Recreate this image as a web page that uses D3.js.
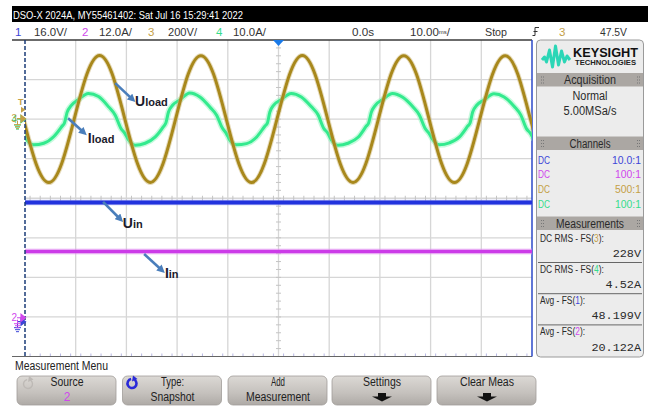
<!DOCTYPE html>
<html>
<head>
<meta charset="utf-8">
<script src="https://cdn.jsdelivr.net/npm/d3@7"></script>
<style>
  body { margin: 0; background: #fff; }
  svg { display: block; }
</style>
</head>
<body>
<div id="scope"></div>
<script>
// ---- values ----
// channel settings: 1 = Uin, 2 = Iin, 3 = Uload, 4 = Iload
const chNames = ["1", "2", "3", "4"];
const chScaleText = ["16.0V/", "12.0A/", "200V/", "10.0A/"];
const chScale = [16, 12, 200, 10]; // units per division
const chOffset = [-3.12, -3.02, 2, 2]; // ground position, divisions from centre
const chColor = ["#2233dd", "#cc3be8", "#a8881c", "#33ea8e"];
const chLabelColor = ["#3c46d8", "#d048ec", "#c4a046", "#35dc8c"];
const probe = ["10.0:1", "100:1", "500:1", "100:1"];

// Uload, ms / volts
const uloadTime = [-50.3, -47.8, -45.3, -42.8, -40.3, -37.8, -35.3, -32.8, -30.3, -27.8, -25.3, -22.8, -20.3, -17.8,
  -15.3, -12.8, -10.3, -7.8, -5.3, -2.8, -0.3, 2.2, 4.7, 7.2, 9.7, 12.2, 14.7, 17.2, 19.7, 22.2, 24.7, 27.2, 29.7,
  32.2, 34.7, 37.2, 39.7, 42.2, 44.7, 47.2, 49.7, 52.2];
const uloadVolts = [0, -227, -321, -227, 0, 227, 322, 228,
  0, -226, -320, -227, 0, 228, 321, 227,
  0, -227, -321, -226, 0, 227, 322, 227,
  0, -227, -320, -227, 0, 227, 321, 228,
  0, -227, -321, -227, 0, 226, 321, 227,
  0, -227];

// Iload, ms / amps
const iloadTime = [-51.1, -50.3, -49.6, -48.3, -46.3, -44.3, -42.7, -42.2, -41.7, -40.9, -39.5,
  -37.5, -35.5, -33.5, -32.2, -31.1, -30.3, -29.6, -28.3, -26.3, -24.3, -22.7, -22.2, -21.7, -20.9, -19.5,
  -17.5, -15.5, -13.5, -12.2, -11.1, -10.3, -9.6, -8.3, -6.3, -4.3, -2.7, -2.2, -1.7, -0.9, 0.5,
  2.5, 4.5, 6.5, 7.8, 8.9, 9.7, 10.4, 11.7, 13.7, 15.7, 17.3, 17.8, 18.3, 19.1, 20.5,
  22.5, 24.5, 26.5, 27.8, 28.9, 29.7, 30.4, 31.7, 33.7, 35.7, 37.3, 37.8, 38.3, 39.1, 40.5,
  42.5, 44.5, 46.5, 47.8, 48.9, 49.7, 50.4];
const iloadAmps = [-2.4, -3.7, -5.3, -6.5, -6.1, -4.4, -1.8, -0.9, 1.7, 3.4, 4.9,
  6.5, 5.7, 3.1, 1.0, -2.3, -3.6, -5.2, -6.6, -6.1, -4.5, -1.9, -0.9, 1.8, 3.5, 4.8,
  6.6, 5.6, 3.0, 1.0, -2.2, -3.6, -5.3, -6.5, -6.2, -4.5, -1.8, -1.0, 1.8, 3.6, 4.9,
  6.5, 5.6, 3.1, 1.1, -2.3, -3.5, -5.2, -6.6, -6.1, -4.6, -1.8, -0.9, 1.7, 3.5, 4.9,
  6.5, 5.5, 3.1, 1.0, -2.3, -3.6, -5.1, -6.5, -6.0, -4.5, -1.8, -0.9, 1.8, 3.5, 4.8,
  6.4, 5.6, 3.2, 1.0, -2.4, -3.6, -5.2];

// Uin and Iin are flat DC traces
const dcTime = [-50, -30, -10, 10, 30, 50];
const uinVolts = [48.2, 48.2, 48.2, 48.2, 48.2, 48.2];
const iinAmps = [20.1, 20.1, 20.1, 20.1, 20.1, 20.1];

// annotations: [text, subscript, arrow start (ms, div), arrow end, label position]
const notes = [
  ["U", "load", [-32.2, 2.91], [-28.8, 2.5], [-28.3, 2.34]],
  ["I", "load", [-41.5, 2.02], [-38.4, 1.66], [-37.6, 1.4]],
  ["U", "in", [-34.6, -0.09], [-31.2, -0.53], [-30.7, -0.76]],
  ["I", "in", [-26.5, -1.41], [-23.0, -1.82], [-22.4, -2.01]]
];

const measNames = [["DC RMS - FS(", "3", "):"], ["DC RMS - FS(", "4", "):"], ["Avg - FS(", "1", "):"], ["Avg - FS(", "2", "):"]];
const measChannel = [2, 3, 0, 1];
const measValues = ["228V", "4.52A", "48.199V", "20.122A"];
const softKeys = [["Source", "2"], ["Type:", "Snapshot"], ["Add", "Measurement"], ["Settings", ""], ["Clear Meas", ""]];

// ---- drawing ----
const W = 651, H = 408;
const ui = "'Liberation Sans', Arial, sans-serif";
const mono = "'Liberation Mono', 'DejaVu Sans Mono', monospace";

const svg = d3.select("#scope").append("svg").attr("width", W).attr("height", H);
const defs = svg.append("defs");

const txt = (g, px, py, s, o = {}) => {
  const t = g.append("text")
    .attr("x", px).attr("y", py)
    .attr("font-family", o.family || ui)
    .attr("font-size", o.size || 11)
    .attr("fill", o.fill || "#222")
    .attr("text-anchor", o.anchor || "start")
    .text(s);
  if (o.weight) t.attr("font-weight", o.weight);
  if (o.len) t.attr("textLength", o.len).attr("lengthAdjust", "spacingAndGlyphs");
  return t;
};

const x = d3.scaleLinear().domain([-50, 50]).range([25, 532]);
const y = d3.scaleLinear().domain([-4, 4]).range([356.5, 40]);
const yCh = (ch, v) => y(v / chScale[ch] + chOffset[ch]);

// title bar + channel row
svg.append("rect").attr("x", 12).attr("y", 6).attr("width", 636).attr("height", 16).attr("fill", "#000");
txt(svg, 13, 19, "DSO-X 2024A, MY55461402: Sat Jul 16 15:29:41 2022", { fill: "#fff", len: 230 });

const numX = [15, 82, 148, 216], scaleX = [34, 99, 168, 233];
chNames.forEach((c, i) => {
  txt(svg, numX[i], 35.5, c, { fill: chLabelColor[i], size: 11.5 });
  txt(svg, scaleX[i], 35.5, chScaleText[i], { fill: "#333", size: 11.5, len: i === 2 ? 29 : 33 });
});
txt(svg, 352, 35.5, "0.0s", { fill: "#333", size: 11.5, len: 22 });
const tb = txt(svg, 410, 35.5, "10.00", { fill: "#333", size: 11.5 });
tb.append("tspan").attr("font-size", 6).attr("dy", -2).text("ms");
tb.append("tspan").attr("dy", 2).text("/");
txt(svg, 485, 35.5, "Stop", { fill: "#333", size: 11.5, len: 22 });
svg.append("path").attr("d", "M532.5,35.5H535V27.5H539M533.5,31.5H537.5")
  .attr("fill", "none").attr("stroke", "#333").attr("stroke-width", 1);
txt(svg, 559, 35.5, "3", { fill: chLabelColor[2], size: 11.5 });
txt(svg, 600, 35.5, "47.5V", { fill: "#333", size: 11.5, len: 27 });

// graticule
const plot = svg.append("g");
defs.append("clipPath").attr("id", "clip").append("rect")
  .attr("x", x(-50)).attr("y", y(4)).attr("width", x(50) - x(-50)).attr("height", y(-4) - y(4));

plot.selectAll(".vgrid").data(d3.range(-40, 50, 10)).join("line")
  .attr("class", "vgrid")
  .attr("x1", d => x(d)).attr("x2", d => x(d)).attr("y1", y(4)).attr("y2", y(-4))
  .attr("stroke", "#d6d6d6").attr("stroke-width", 1.3);
plot.selectAll(".hgrid").data(d3.range(-3, 4, 1)).join("line")
  .attr("class", "hgrid")
  .attr("x1", x(-50)).attr("x2", x(50)).attr("y1", d => y(d)).attr("y2", d => y(d))
  .attr("stroke", "#d6d6d6").attr("stroke-width", 1.3);

// minor ticks on centre axes and bottom edge
plot.selectAll(".vtick").data(d3.range(-3.8, 4, 0.2)).join("line")
  .attr("class", "vtick")
  .attr("x1", x(0) - 2.5).attr("x2", x(0) + 2.5).attr("y1", d => y(d)).attr("y2", d => y(d))
  .attr("stroke", "#c4c4c4").attr("stroke-width", 1);
plot.selectAll(".htick").data(d3.range(-49, 50, 2)).join("line")
  .attr("class", "htick")
  .attr("x1", d => x(d)).attr("x2", d => x(d)).attr("y1", y(0) - 2.5).attr("y2", y(0) + 2.5)
  .attr("stroke", "#c4c4c4").attr("stroke-width", 1);
plot.selectAll(".btick").data(d3.range(-49, 50, 2)).join("line")
  .attr("class", "btick")
  .attr("x1", d => x(d)).attr("x2", d => x(d)).attr("y1", y(-4) - 3).attr("y2", y(-4))
  .attr("stroke", "#b8b8e4").attr("stroke-width", 1);

// frame
plot.append("line").attr("x1", 12).attr("x2", x(50)).attr("y1", y(4)).attr("y2", y(4))
  .attr("stroke", "#3a3a3a").attr("stroke-width", 1.5);
plot.append("line").attr("x1", 12).attr("x2", x(50)).attr("y1", y(-4)).attr("y2", y(-4))
  .attr("stroke", "#666").attr("stroke-width", 1);
plot.append("line").attr("x1", x(50)).attr("x2", x(50)).attr("y1", y(4)).attr("y2", y(-4))
  .attr("stroke", "#2b48c8").attr("stroke-width", 1.5);

// traces
const traces = plot.append("g").attr("clip-path", "url(#clip)");
const drawTrace = (ch, times, vals, curve, width, halo, haloW) => {
  const path = d3.line().x((d, i) => x(times[i])).y(d => yCh(ch, d)).curve(curve);
  traces.append("path").attr("d", path(vals)).attr("fill", "none")
    .attr("stroke", halo).attr("stroke-width", width + haloW).attr("stroke-opacity", 0.5)
    .attr("stroke-linejoin", "round");
  traces.append("path").attr("d", path(vals)).attr("fill", "none")
    .attr("stroke", chColor[ch]).attr("stroke-width", width)
    .attr("stroke-linejoin", "round");
};
drawTrace(1, dcTime, iinAmps, d3.curveLinear, 3.5, "#e6a4f4", 2.5);
drawTrace(0, dcTime, uinVolts, d3.curveLinear, 4, "#8a94ee", 1.5);
drawTrace(3, iloadTime, iloadAmps, d3.curveMonotoneX, 3, "#8ff5bd", 3);
drawTrace(2, uloadTime, uloadVolts, d3.curveNatural, 3, "#cdb878", 2);

// time reference at left edge
plot.append("line").attr("x1", x(-50)).attr("x2", x(-50)).attr("y1", y(4)).attr("y2", y(-4))
  .attr("stroke", "#1b3c78").attr("stroke-width", 1.5).attr("stroke-dasharray", "4,2");

// trigger position marker
plot.append("path")
  .attr("d", `M${x(0) - 5.5},${y(4)}L${x(0) + 5.5},${y(4)}L${x(0)},${y(4) + 6}Z`)
  .attr("fill", "#1a7ae8");

// left side markers
const trigY = yCh(2, 47.5);
txt(svg, 18, trigY - 5, "T", { fill: chLabelColor[2], size: 9, weight: "bold" });
svg.append("path").attr("d", `M21,${trigY - 3}L25.5,${trigY}L21,${trigY + 3}Z`).attr("fill", chLabelColor[2]);

// ground markers; ch1's number is hidden under ch2's on the scope
const groundMark = (ch, gy, showNum) => {
  const c = chLabelColor[ch];
  if (showNum) txt(svg, 11.5, gy + 3.5, chNames[ch], { fill: c, size: 10 });
  svg.append("path").attr("d", `M17,${gy}H21M21,${gy - 3.5}L25.5,${gy}L21,${gy + 3.5}Z`)
    .attr("fill", c).attr("stroke", c).attr("stroke-width", 1.2);
  svg.append("path").attr("d", `M17.5,${gy + 2}V${gy + 6}M14,${gy + 6}H21M15,${gy + 8}H20M16,${gy + 10}H19`)
    .attr("fill", "none").attr("stroke", c).attr("stroke-width", 1);
};
groundMark(3, y(chOffset[3]), true);
groundMark(2, y(chOffset[2]) - 0.5, true);
groundMark(0, y(chOffset[0]), false);
groundMark(1, y(chOffset[1]), true);

// annotations
defs.append("marker").attr("id", "arrow")
  .attr("viewBox", "0 0 10 10").attr("refX", 5).attr("refY", 5)
  .attr("markerWidth", 9).attr("markerHeight", 8).attr("markerUnits", "userSpaceOnUse")
  .attr("orient", "auto")
  .append("path").attr("d", "M0,0L10,5L0,10Z").attr("fill", "#4a7ebb");

const notesG = svg.append("g");
notes.forEach(([main, sub, from, to, at]) => {
  notesG.append("line")
    .attr("x1", x(from[0])).attr("y1", y(from[1])).attr("x2", x(to[0])).attr("y2", y(to[1]))
    .attr("stroke", "#4a7ebb").attr("stroke-width", 2.6).attr("marker-end", "url(#arrow)");
  const t = txt(notesG, x(at[0]), y(at[1]), main, { fill: "#1b1b2b", size: 14, weight: "bold" });
  t.append("tspan").attr("font-size", 11).text(sub);
});

// right panel
const panel = svg.append("g");
panel.append("rect").attr("x", 536.5).attr("y", 40).attr("width", 107).attr("height", 317).attr("rx", 4)
  .attr("fill", "#ececec").attr("stroke", "#9a9a9a").attr("stroke-width", 1);

// logo
panel.append("path")
  .attr("d", "M542,60L544.5,57L546.5,62L549.5,50L552.5,67L555.5,46L558.5,65L561.5,51L564.5,62L567,56L570,60")
  .attr("fill", "none").attr("stroke", "#2bd6b6").attr("stroke-width", 3).attr("stroke-linejoin", "round");
txt(panel, 573, 57, "KEYSIGHT", { fill: "#111", size: 13, weight: "bold", len: 65 });
txt(panel, 575, 64.5, "TECHNOLOGIES", { fill: "#222", size: 6.5, weight: "bold", len: 61 });

const header = (top, label, len) => {
  panel.append("rect").attr("x", 537).attr("y", top).attr("width", 106).attr("height", 13.5).attr("fill", "#aba7a3");
  txt(panel, 590, top + 11, label, { anchor: "middle", size: 12, fill: "#2a2a2a", len: len });
  [541, 637].forEach(gx => {
    panel.selectAll(null).data([[0, 0], [2, 0], [0, 3], [2, 3], [0, 6], [2, 6]]).join("rect")
      .attr("x", d => gx + d[0]).attr("y", d => top + 3.5 + d[1]).attr("width", 1).attr("height", 1)
      .attr("fill", "#777");
  });
};
header(73, "Acquisition", 52);
txt(panel, 590, 100, "Normal", { anchor: "middle", size: 12, fill: "#2a2a2a", len: 35 });
txt(panel, 590, 115, "5.00MSa/s", { anchor: "middle", size: 12, fill: "#2a2a2a", len: 53 });

header(136.5, "Channels", 41);
probe.forEach((p, i) => {
  const by = 163.5 + i * 14.7;
  txt(panel, 538, by, "DC", { fill: chLabelColor[i], size: 11.5, len: 12 });
  txt(panel, 641, by, p, { fill: chLabelColor[i], size: 11.5, anchor: "end", len: i === 0 ? 29 : 26 });
});

header(216.5, "Measurements", 68);
measNames.forEach((m, i) => {
  const top = 241.5 + i * 31.2;
  // narrow scope font: squeeze the label horizontally
  const lg = panel.append("g").attr("transform", `translate(540,${top}) scale(0.73,1)`);
  const t = txt(lg, 0, 0, m[0], { size: 11.5, fill: "#2a2a2a" });
  t.append("tspan").attr("fill", chLabelColor[measChannel[i]]).text(m[1]);
  t.append("tspan").text(m[2]);
  txt(panel, 641, top + 15.5, measValues[i], { family: mono, size: 11.8, anchor: "end", fill: "#2a2a2a" });
  if (i < 3) {
    panel.append("line").attr("x1", 538).attr("x2", 642).attr("y1", top + 21).attr("y2", top + 21)
      .attr("stroke", "#666").attr("stroke-width", 1);
  }
});

// soft key menu
txt(svg, 15, 370, "Measurement Menu", { size: 12, fill: "#222", len: 93 });
const grad = defs.append("linearGradient").attr("id", "key").attr("x1", 0).attr("x2", 0).attr("y1", 0).attr("y2", 1);
grad.append("stop").attr("offset", "0%").attr("stop-color", "#dcd9d5");
grad.append("stop").attr("offset", "60%").attr("stop-color", "#c4c0bc");
grad.append("stop").attr("offset", "100%").attr("stop-color", "#aeaaa6");

const keyX = [17, 122.5, 228, 332, 437];
const keyLen = [[33, 8], [23, 44], [14, 64], [38, 0], [54, 0]];
softKeys.forEach((k, i) => {
  const g = svg.append("g").attr("transform", `translate(${keyX[i]},376)`);
  g.append("rect").attr("width", 99).attr("height", 29).attr("rx", 5)
    .attr("fill", "url(#key)").attr("stroke", "#a19d99").attr("stroke-width", 0.8);
  txt(g, 50, 10, k[0], { anchor: "middle", size: 12, fill: "#222", len: keyLen[i][0] });
  if (k[1]) {
    txt(g, 50, 25, k[1], { anchor: "middle", size: 12, fill: i === 0 ? chLabelColor[1] : "#222", len: i === 0 ? null : keyLen[i][1] });
  } else {
    g.append("path").attr("d", "M46,17H54V20.5H60L50,25.5L40,20.5H46Z").attr("fill", "#111");
  }
});

// rotary knob icons on the first two keys
const knob = (cx, cy, color, w) => {
  const arc = d3.arc().innerRadius(4.5).outerRadius(4.5).startAngle(0.6).endAngle(2 * Math.PI - 0.2);
  svg.append("path").attr("transform", `translate(${cx},${cy})`).attr("d", arc())
    .attr("fill", "none").attr("stroke", color).attr("stroke-width", w);
  svg.append("path").attr("transform", `translate(${cx},${cy})`).attr("d", "M1,-8L5.5,-4.5L0,-2Z").attr("fill", color);
};
knob(28, 384, "#bdb9b5", 1.4);
knob(132, 383.5, "#2a2ad8", 2.6);
</script>
</body>
</html>
